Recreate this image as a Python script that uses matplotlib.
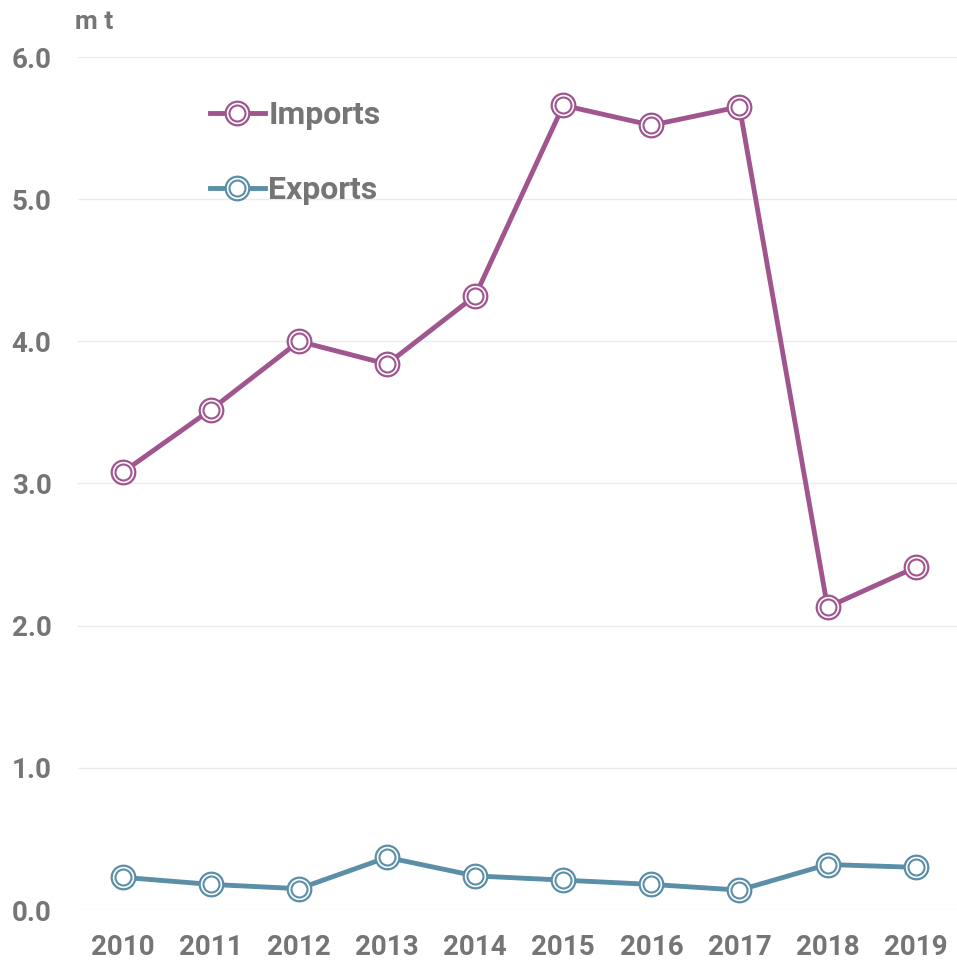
import matplotlib.pyplot as plt
import numpy as np

plt.rcParams['font.family'] = ['Roboto', 'DejaVu Sans']
plt.rcParams['font.weight'] = 'bold'

years = [2010, 2011, 2012, 2013, 2014, 2015, 2016, 2017, 2018, 2019]
imports = [3.08, 3.52, 4.00, 3.84, 4.32, 5.66, 5.52, 5.65, 2.13, 2.41]
exports = [0.23, 0.18, 0.15, 0.37, 0.24, 0.21, 0.18, 0.14, 0.32, 0.30]
yticks = [0.0, 1.0, 2.0, 3.0, 4.0, 5.0, 6.0]

c_imp = '#a0558f'
c_exp = '#5b8fa8'
grey = '#757575'

fig = plt.figure(figsize=(9.57, 9.63), dpi=100)
ax = fig.add_axes([78/957, 53/963, 1 - 78/957, (910 - 57)/963])

handles = []
for vals, col, name in [(imports, c_imp, 'Imports'), (exports, c_exp, 'Exports')]:
    l1, = ax.plot(years, vals, color=col, lw=3.5, marker='o', ms=17,
                  mfc='white', mec=col, mew=1.6, clip_on=False, zorder=3)
    l2, = ax.plot(years, vals, ls='none', marker='o', ms=11.5,
                  mfc='white', mec=col, mew=1.5, clip_on=False, zorder=4)
    handles.append(((l1, l2), name))

ax.set_xlim(2009.49, 2019.47)
ax.set_ylim(0, 6)
ax.set_xticks(years)
ax.set_yticks(yticks)
ax.set_yticklabels([f'{v:.1f}' for v in yticks])
ax.grid(axis='y', color='#ebebeb', lw=1)
ax.set_axisbelow(True)
for s in ax.spines.values():
    s.set_visible(False)
ax.tick_params(length=0, labelsize=20, labelcolor=grey)
ax.tick_params(axis='y', pad=19)
ax.tick_params(axis='x', pad=17)

fig.text(75/957, 1 - 22/963, 'm t', fontsize=19, color=grey,
         ha='left', va='center')

leg = ax.legend([h for h, _ in handles], [n for _, n in handles],
                loc='upper left', bbox_to_anchor=(210/957, 1 - 100/963),
                bbox_transform=fig.transFigure, frameon=False, fontsize=23,
                numpoints=1, handlelength=1.72, handletextpad=0.1,
                labelspacing=1.42, borderpad=0, borderaxespad=0)
for t in leg.get_texts():
    t.set_color(grey)

fig.savefig('out.png', dpi=100)
